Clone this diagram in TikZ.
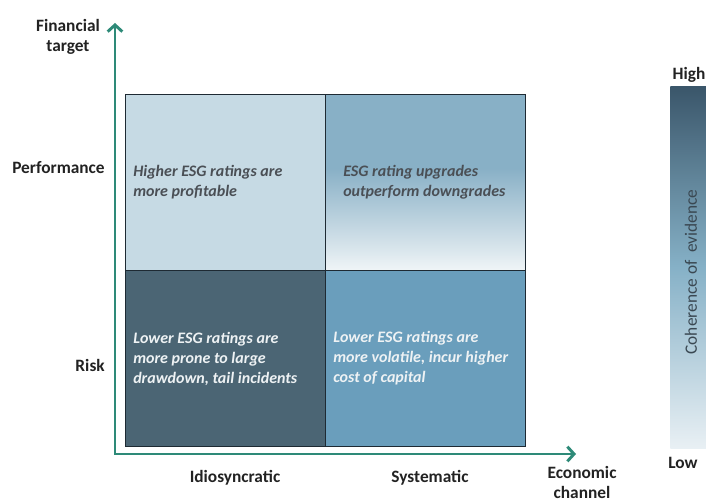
\documentclass[tikz,border=0pt]{standalone}
\usepackage{fontspec}
\setmainfont{Carlito}
\usetikzlibrary{arrows.meta}
\definecolor{axisteal}{HTML}{2E8A78}
\definecolor{cellTL}{HTML}{C6DAE4}
\definecolor{cellTRtop}{HTML}{88B0C6}
\definecolor{cellTRmid}{HTML}{A8C5D5}
\definecolor{cellTRlow}{HTML}{D2E1E9}
\definecolor{cellTRbot}{HTML}{F0F5F7}
\definecolor{cellBL}{HTML}{4B6574}
\definecolor{cellBR}{HTML}{6A9EBC}
\definecolor{gridline}{HTML}{1E2A33}
\definecolor{labeltext}{HTML}{222222}
\definecolor{celldark}{HTML}{4A4F55}
\definecolor{celllight}{HTML}{EEF2F4}
\definecolor{barTop}{HTML}{3A566A}
\definecolor{barMid}{HTML}{86B1C7}
\definecolor{barBot}{HTML}{E9F0F4}
\definecolor{cohtext}{HTML}{3A4852}
% the path is mapped onto 25bp--75bp of a declared shading
\pgfdeclareverticalshading{trshade}{100bp}{color(0bp)=(cellTRbot); color(25bp)=(cellTRbot); color(33bp)=(cellTRlow); color(45bp)=(cellTRmid); color(54bp)=(cellTRtop); color(100bp)=(cellTRtop)}
\pgfdeclareverticalshading{barshade}{100bp}{color(0bp)=(barBot); color(25bp)=(barBot); color(50bp)=(barMid); color(75bp)=(barTop); color(100bp)=(barTop)}
\begin{document}
\begin{tikzpicture}[x=0.75pt,y=-0.75pt,
  cell/.style={draw=gridline, line width=0.8pt, minimum width=150pt, minimum height=132pt, inner sep=0pt, anchor=north west},
  axislabel/.style={font=\fontsize{13}{15}\selectfont\bfseries, text=labeltext, align=center, inner sep=0pt},
  celltext/.style={font=\fontsize{12}{15}\selectfont\bfseries\itshape, align=left, anchor=west, inner sep=0pt},
  axisline/.style={draw=axisteal, line width=2.2pt, {Straight Barb[length=5pt,width=11pt]}-{Straight Barb[length=5pt,width=11pt]}}
]
\useasboundingbox (0,0) rectangle (706,502);
% grid cells
\node[cell, fill=cellTL] (cTL) at (125,94) {};
\node[cell, shading=trshade] (cTR) at (325,94) {};
\node[cell, fill=cellBL] (cBL) at (125,270) {};
\node[cell, fill=cellBR] (cBR) at (325,270) {};
% cell texts
\node[celltext, text=celldark] (tTL) at ([xshift=6pt]cTL.west) {Higher ESG ratings are\\more profitable};
\node[celltext, text=celldark] (tTR) at ([xshift=13.5pt]cTR.west) {ESG rating upgrades\\outperform downgrades};
\node[celltext, text=celllight] (tBL) at ([xshift=6pt]cBL.west) {Lower ESG ratings are\\more prone to large\\drawdown, tail incidents};
\node[celltext, text=celllight] (tBR) at ([xshift=6pt]cBR.west) {Lower ESG ratings are\\more volatile, incur higher\\cost of capital};
% axes
\coordinate (O) at (115,454);
\coordinate (ytip) at (115,23);
\coordinate (xtip) at (576,454);
\draw[axisline] (ytip) -- (O) -- (xtip);
% axis labels
\node[axislabel] (fin) at (68,37) {Financial\\target};
\node[axislabel] (perf) [anchor=east] at (105,168) {Performance};
\node[axislabel] (risk) [anchor=east] at (105,365) {Risk};
\node[axislabel] (idio) at (235,478) {Idiosyncratic};
\node[axislabel] (syst) at (430,478) {Systematic};
\node[axislabel] (econ) at (582,482) {Economic\\channel};
% coherence bar
\node[anchor=north west, minimum width=27pt, minimum height=272pt, inner sep=0pt, shading=barshade] (bar) at (670,86) {};
\node[axislabel] (high) at (689,75) {High};
\node[axislabel] (low) at (683,463) {Low};
\node[rotate=90, font=\fontsize{13}{15}\selectfont, text=cohtext, inner sep=0pt] (coh) at (691,272) {Coherence of\hspace{0.45em}evidence};
\end{tikzpicture}
\end{document}
